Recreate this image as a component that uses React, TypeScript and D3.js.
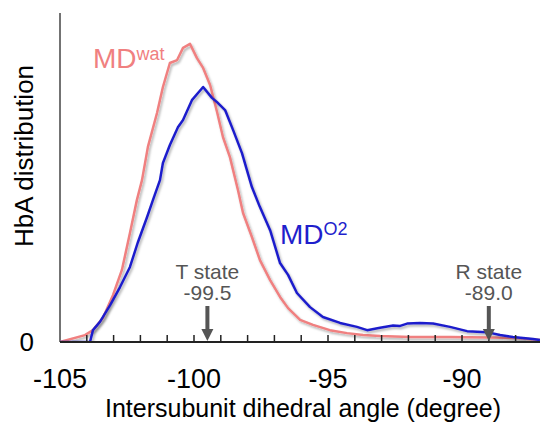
import React from "react";
import * as d3 from "d3";

// ---- data ----
const watX = [-105.0, -104.07, -103.77, -103.4, -103.02, -102.69, -102.39, -102.13, -101.94, -101.72, -101.38, -101.16, -100.9, -100.63, -100.41, -100.15, -99.89, -99.66, -99.4, -99.14, -98.92, -98.66, -98.36, -98.17, -97.84, -97.54, -97.16, -96.79, -96.49, -96.04, -95.56, -94.93, -94.29, -93.69, -93.06, -91.94, -90.45, -88.96, -87.95, -87.09];
const watY = [0, 2.1, 3.6, 7.3, 14.3, 21.9, 33.1, 43.2, 49.2, 59.3, 69.6, 77.5, 84.8, 85.7, 89.4, 90.6, 86.3, 83.3, 78.1, 69.9, 62.3, 56.2, 46.2, 39.2, 31.9, 24.9, 18.8, 13.7, 10.3, 6.7, 5.2, 3.6, 2.7, 2.1, 1.8, 1.5, 1.5, 1.4, 1.2, 0.6];

const o2X = [-105.0, -103.88, -103.77, -103.51, -103.13, -102.76, -102.39, -102.09, -101.75, -101.53, -101.27, -101.16, -100.9, -100.6, -100.41, -100.07, -99.66, -99.33, -99.14, -98.84, -98.54, -98.21, -97.84, -97.54, -97.16, -96.79, -96.49, -96.16, -95.67, -95.19, -94.55, -93.92, -93.54, -93.06, -92.57, -92.31, -92.05, -91.57, -91.08, -90.45, -89.81, -89.07, -88.58, -88.1, -87.35, -87.09];
const o2Y = [0, 0, 3.6, 6.1, 11.2, 16.7, 22.8, 30.4, 38.0, 43.2, 49.2, 54.4, 59.9, 65.3, 67.5, 73.6, 77.5, 74.2, 72.9, 70.5, 64.4, 57.4, 47.1, 41.0, 34.0, 24.0, 20.4, 14.9, 10.6, 7.6, 5.8, 4.6, 3.6, 4.3, 5.0, 4.9, 5.6, 5.8, 5.6, 4.6, 3.3, 3.0, 2.1, 1.5, 0.9, 0.6];

const majorTicks = [-105, -100, -95, -90];
const minorTicks = d3.range(-104, -87);
const stateNames = ["T state", "R state"];
const stateValues = [-99.5, -89.0];
const stateLabels = ["-99.5", "-89.0"];

const W = 540;
const H = 424;
const left = 60;
const right = 540;
const top = 13;
const bottom = 342;

const PINK = "#F08080";
const BLUE = "#1F1FCC";
const GREY = "#555555";
const FONT = "'Liberation Sans', Arial, sans-serif";

export default function App() {
  const x = d3.scaleLinear().domain([-105, -87.09]).range([left, right]);
  const y = d3.scaleLinear().domain([0, 100]).range([bottom, top]);
  const line = d3
    .line<[number, number]>()
    .x((d) => x(d[0]))
    .y((d) => y(d[1]));
  const watPath = line(watX.map((v, i) => [v, watY[i]] as [number, number])) || "";
  const o2Path = line(o2X.map((v, i) => [v, o2Y[i]] as [number, number])) || "";

  return (
    <svg
      width={W}
      height={H}
      style={{ position: "fixed", left: 0, top: 0, background: "#fff" }}
      fontFamily={FONT}
    >
      <defs>
        <filter id="shadow" x="-10%" y="-10%" width="120%" height="130%">
          <feDropShadow dx="1.5" dy="2" stdDeviation="1.2" floodColor="#000" floodOpacity="0.3" />
        </filter>
        <clipPath id="plot">
          <rect x={left} y={top - 5} width={right - left} height={bottom - top + 5} />
        </clipPath>
      </defs>

      {/* frame */}
      <line x1={left} x2={right} y1={top} y2={top} stroke="#333" strokeWidth={2} filter="url(#shadow)" />
      <line x1={left} x2={left} y1={top} y2={bottom} stroke="#444" strokeWidth={1.5} />

      {/* curves */}
      <g clipPath="url(#plot)">
        <path d={watPath} fill="none" stroke={PINK} strokeWidth={2.5} strokeLinejoin="round" filter="url(#shadow)" />
        <path d={o2Path} fill="none" stroke={BLUE} strokeWidth={2.5} strokeLinejoin="round" filter="url(#shadow)" />
      </g>

      {/* x axis */}
      <line x1={left} x2={right} y1={bottom} y2={bottom} stroke="#222" strokeWidth={2} />
      {minorTicks.map((t) => (
        <line key={t} x1={x(t)} x2={x(t)} y1={bottom} y2={bottom - 7} stroke="#222" strokeWidth={1.5} />
      ))}
      {majorTicks.map((t) => (
        <text key={t} x={x(t)} y={388} textAnchor="middle" fontSize={27} fill="#000">
          {t}
        </text>
      ))}
      <text x={(left + right) / 2 + 3} y={417} textAnchor="middle" fontSize={25} fill="#000">
        Intersubunit dihedral angle (degree)
      </text>

      {/* y axis */}
      <text x={34} y={351} textAnchor="end" fontSize={26} fill="#000">
        0
      </text>
      <text
        transform={`translate(33, 156) rotate(-90)`}
        textAnchor="middle"
        fontSize={26}
        fill="#000"
      >
        HbA distribution
      </text>

      {/* state markers */}
      {stateValues.map((v, i) => {
        const cx = x(v);
        return (
          <g key={v} fill={GREY}>
            <text x={cx} y={279} textAnchor="middle" fontSize={21}>
              {stateNames[i]}
            </text>
            <text x={cx} y={300} textAnchor="middle" fontSize={21}>
              {stateLabels[i]}
            </text>
            <rect x={cx - 2} y={306} width={4} height={24} />
            <path d={`M${cx - 6},329 L${cx + 6},329 L${cx},341 Z`} />
          </g>
        );
      })}

      {/* series labels */}
      <text x={93} y={68} fontSize={28} fill={PINK}>
        MD
        <tspan fontSize={18} dy={-8}>wat</tspan>
      </text>
      <text x={280} y={244} fontSize={28} fill={BLUE}>
        MD
        <tspan fontSize={18} dy={-9}>O2</tspan>
      </text>
    </svg>
  );
}
